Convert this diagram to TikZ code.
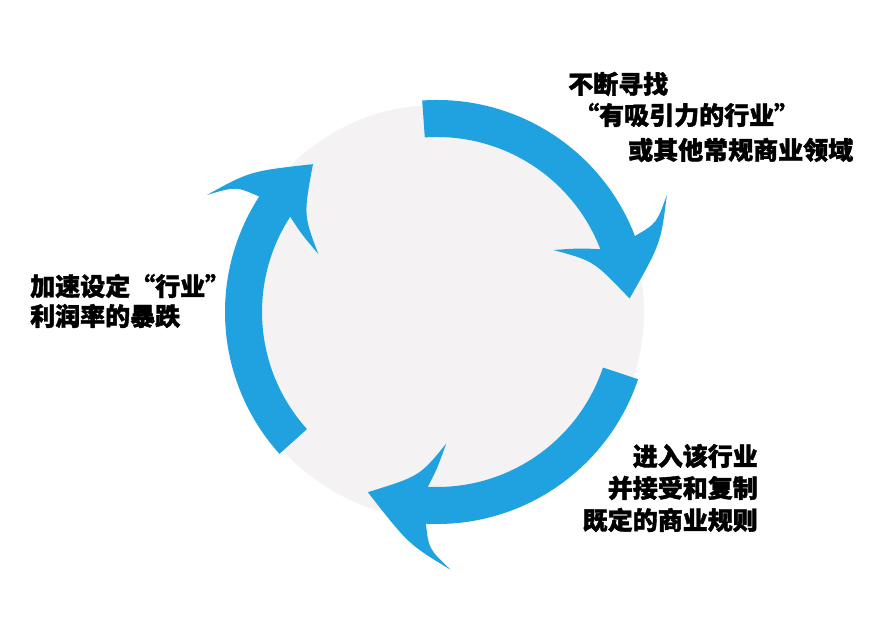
\documentclass[tikz,border=0pt]{standalone}
\usepackage{fontspec}
\newfontfamily\cjk{Noto Sans CJK SC}[BoldFeatures={FakeBold=1.5}]
\usetikzlibrary{calc}
\definecolor{arrowblue}{RGB}{32,161,224}
\definecolor{discgray}{RGB}{244,242,242}
\newcommand{\cyclearrow}[3]{%
  \fill[arrowblue] ($(C)+(#1:\Ro)$) arc[start angle=#1, end angle=#2, radius=\Ro]
   .. controls ($(C)+(#2+1:\Ro+25)$) .. ($(C)+(#2+6:\Ro+46)$)
   .. controls ($(C)+(#2-4:\Ro+22)$) .. ($(C)+(#3:\Rm)$)
   .. controls ($(C)+(#2-3:\Ri-10)$) .. ($(C)+(#2+7:\Ri-43)$)
   .. controls ($(C)+(#2+3:\Ri-18)$) .. ($(C)+(#2:\Ri)$)
   arc[start angle=#2, end angle=#1, radius=\Ri] -- cycle;
}
\begin{document}
\begin{tikzpicture}[x=1pt,y=1pt,
  lbl/.style={inner sep=0pt, font=\cjk\bfseries\fontsize{25}{30}\selectfont, text=black}]
\def\Ro{212}\def\Ri{175}\def\Rm{193}
\fill[white] (0,0) rectangle (880,623);
\useasboundingbox (0,0) rectangle (880,623);
\coordinate (C) at (437,311);
\fill[discgray] (C) circle[radius=207];
\cyclearrow{94}{21}{4}
\cyclearrow{222}{147}{130}
\cyclearrow{341.5}{267}{249}
% top-right text
\node[lbl, anchor=west] (tr1) at (568,539) {不断寻找};
\node[lbl, anchor=west] (tr2) at (574,508) {“有吸引力的行业”};
\node[lbl, anchor=west] (tr3) at (628,473) {或其他常规商业领域};
% left text
\node[lbl, anchor=west] (l1) at (30,337) {加速设定“行业”};
\node[lbl, anchor=west] (l2) at (30,307) {利润率的暴跌};
% bottom-right text
\node[lbl, anchor=east] (br1) at (758,167) {进入该行业};
\node[lbl, anchor=east] (br2) at (758,135) {并接受和复制};
\node[lbl, anchor=east] (br3) at (758,103) {既定的商业规则};
\end{tikzpicture}
\end{document}
